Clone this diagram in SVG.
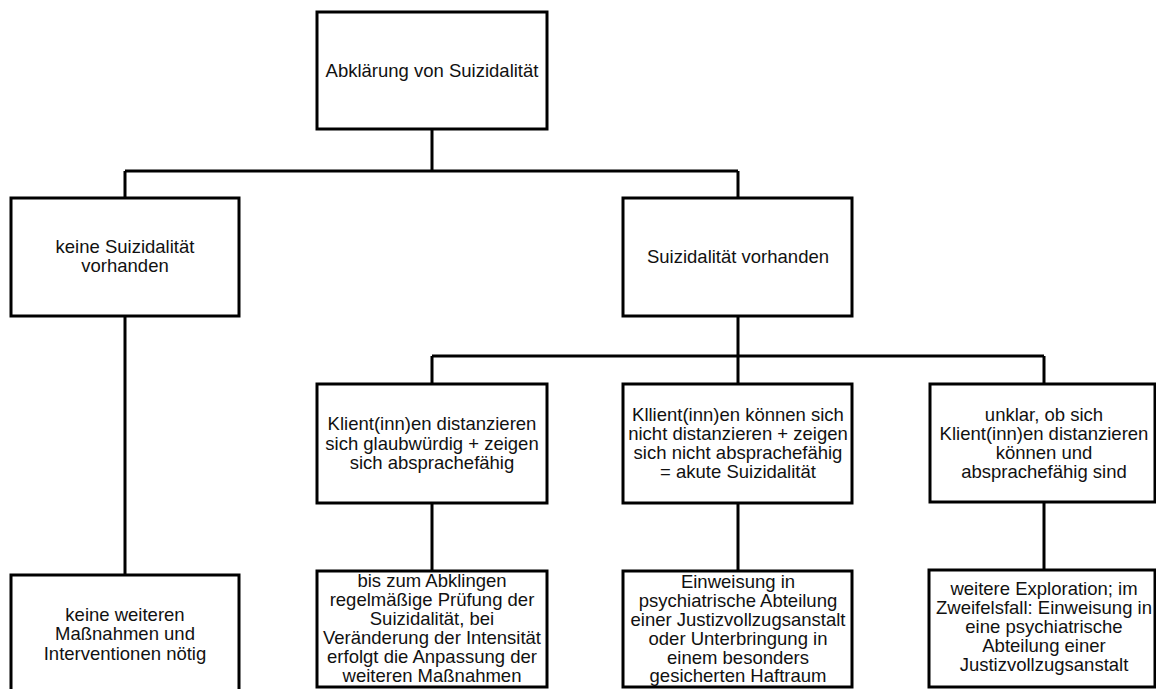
<svg xmlns="http://www.w3.org/2000/svg" width="1156" height="689" viewBox="0 0 1156 689">
<style>
.box{fill:#fff;stroke:#000;stroke-width:3}
.c{fill:none;stroke:#000;stroke-width:3}
text{font-family:"Liberation Sans",Arial,sans-serif;font-size:18.5px;fill:#111;text-anchor:middle}
</style>
<rect width="1156" height="689" fill="#fff"/>
<g id="connectors">
<path class="c" d="M432 129V171M125 171H738M125 171V198M738 171V198"/>
<path class="c" d="M125 316V575"/>
<path class="c" d="M738 316V356M432 356H1044M432 356V384M738 356V384M1044 356V384"/>
<path class="c" d="M432 503V571M738 503V571M1044 503V570"/>
</g>
<g id="n-root"><rect class="box" x="317" y="12" width="230" height="117"/><text x="432" y="77">Abklärung von Suizidalität</text></g>
<g id="n-keine"><rect class="box" x="11" y="198" width="228" height="118"/><text x="125" y="253">keine Suizidalität</text><text x="125" y="272">vorhanden</text></g>
<g id="n-vorhanden"><rect class="box" x="623" y="198" width="229" height="118"/><text x="738" y="263">Suizidalität vorhanden</text></g>
<g id="n-distanz"><rect class="box" x="317" y="384" width="230" height="119"/><text x="432" y="430">Klient(inn)en distanzieren</text><text x="432" y="449.5">sich glaubwürdig + zeigen</text><text x="432" y="469">sich absprachefähig</text></g>
<g id="n-akut"><rect class="box" x="623" y="384" width="229" height="119"/><text x="738" y="420.5">Kllient(inn)en können sich</text><text x="738" y="440">nicht distanzieren + zeigen</text><text x="738" y="459">sich nicht absprachefähig</text><text x="738" y="478">= akute Suizidalität</text></g>
<g id="n-unklar"><rect class="box" x="930" y="384" width="225" height="118"/><text x="1044" y="421">unklar, ob sich</text><text x="1044" y="440">Klient(inn)en distanzieren</text><text x="1044" y="459">können und</text><text x="1044" y="478">absprachefähig sind</text></g>
<g id="n-keineMass"><rect class="box" x="11" y="575" width="228" height="130"/><text x="125" y="621">keine weiteren</text><text x="125" y="640">Maßnahmen und</text><text x="125" y="659.5">Interventionen nötig</text></g>
<g id="n-pruefung"><rect class="box" x="317" y="571" width="230" height="116"/><text x="432" y="587">bis zum Abklingen</text><text x="432" y="606">regelmäßige Prüfung der</text><text x="432" y="625">Suizidalität, bei</text><text x="432" y="644">Veränderung der Intensität</text><text x="432" y="663">erfolgt die Anpassung der</text><text x="432" y="681.5">weiteren Maßnahmen</text></g>
<g id="n-einweisung"><rect class="box" x="623" y="571" width="229" height="116"/><text x="738" y="588">Einweisung in</text><text x="738" y="607">psychiatrische Abteilung</text><text x="738" y="626">einer Justizvollzugsanstalt</text><text x="738" y="644.5">oder Unterbringung in</text><text x="738" y="663.5">einem besonders</text><text x="738" y="682">gesicherten Haftraum</text></g>
<g id="n-exploration"><rect class="box" x="929" y="570" width="226" height="117"/><text x="1044" y="595">weitere Exploration; im</text><text x="1044" y="614">Zweifelsfall: Einweisung in</text><text x="1044" y="633">eine psychiatrische</text><text x="1044" y="652">Abteilung einer</text><text x="1044" y="671">Justizvollzugsanstalt</text></g>
</svg>
